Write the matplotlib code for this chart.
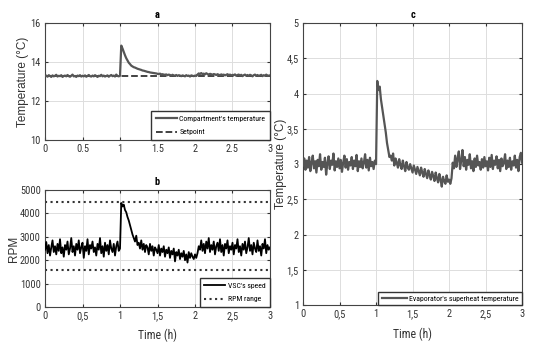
import numpy as np
import matplotlib.pyplot as plt
from matplotlib.ticker import FuncFormatter

# time axis, one sample per minute over 3 h
t = np.arange(181) / 60.0

# compartment temperature (deg C)
temp_a = [
    13.28, 13.31, 13.25, 13.33, 13.29, 13.24, 13.32, 13.27, 13.30, 13.35,
    13.26, 13.30, 13.28, 13.33, 13.24, 13.29, 13.31, 13.27, 13.34, 13.28,
    13.25, 13.30, 13.36, 13.27, 13.29, 13.24, 13.31, 13.28, 13.33, 13.26,
    13.30, 13.27, 13.32, 13.25, 13.29, 13.34, 13.28, 13.26, 13.31, 13.27,
    13.33, 13.29, 13.24, 13.30, 13.28, 13.35, 13.27, 13.31, 13.26, 13.29,
    13.32, 13.25, 13.30, 13.34, 13.28, 13.31, 13.26, 13.36, 13.29, 13.27,
    13.30, 14.85, 14.70, 14.52, 14.35, 14.20, 14.08, 13.97, 13.90, 13.82,
    13.78, 13.74, 13.72, 13.69, 13.66, 13.64, 13.62, 13.60, 13.57, 13.56,
    13.54, 13.52, 13.50, 13.49, 13.47, 13.46, 13.45, 13.44, 13.43, 13.42,
    13.40, 13.39, 13.41, 13.37, 13.38, 13.36, 13.35, 13.37, 13.33, 13.36,
    13.34, 13.31, 13.35, 13.32, 13.30, 13.34, 13.29, 13.33, 13.31, 13.28,
    13.32, 13.30, 13.27, 13.33, 13.29, 13.31, 13.26, 13.32, 13.30, 13.28,
    13.31, 13.29, 13.36, 13.42, 13.39, 13.44, 13.38, 13.41, 13.37, 13.43,
    13.39, 13.36, 13.40, 13.38, 13.35, 13.39, 13.37, 13.34, 13.38, 13.35,
    13.33, 13.37, 13.34, 13.36, 13.32, 13.35, 13.38, 13.33, 13.36, 13.31,
    13.35, 13.33, 13.37, 13.30, 13.34, 13.36, 13.31, 13.35, 13.28, 13.33,
    13.36, 13.30, 13.34, 13.29, 13.35, 13.32, 13.27, 13.33, 13.36, 13.30,
    13.34, 13.29, 13.32, 13.35, 13.28, 13.33, 13.30, 13.36, 13.29, 13.31,
    13.32]
setpoint = 13.3

# VSC speed (RPM)
rpm = [
    2450, 2780, 2300, 2650, 2200, 2550, 2850, 2350, 2600, 2250,
    2700, 2400, 2900, 2300, 2550, 2150, 2650, 2450, 2800, 2250,
    2500, 2950, 2350, 2600, 2200, 2700, 2450, 2850, 2300, 2550,
    2750, 2100, 2600, 2400, 2900, 2250, 2650, 2500, 2800, 2350,
    2550, 2200, 2700, 2450, 2950, 2300, 2600, 2150, 2750, 2400,
    2650, 2250, 2850, 2500, 2350, 2700, 2200, 2600, 2800, 2400,
    2500, 4450, 4300, 4380, 4150, 4050, 3850, 3700, 3500, 3300,
    3100, 2950, 2800, 3050, 2650, 2750, 2500, 2850, 2450, 2700,
    2350, 2650, 2550, 2250, 2700, 2400, 2600, 2200, 2550, 2450,
    2300, 2650, 2200, 2500, 2350, 2600, 2150, 2450, 2300, 2550,
    2100, 2400, 2250, 2500, 1950, 2350, 2200, 2450, 2050, 2300,
    2150, 2400, 2000, 2250, 1900, 2350, 2100, 2300, 2150, 2050,
    2250, 2100, 2300, 2600, 2450, 2850, 2400, 2700, 2300, 2800,
    2500, 2950, 2350, 2650, 2450, 2800, 2250, 2600, 2750, 2400,
    2900, 2350, 2650, 2200, 2700, 2500, 2850, 2300, 2600, 2450,
    2750, 2250, 2650, 2500, 2900, 2350, 2600, 2200, 2700, 2450,
    2800, 2300, 2550, 2950, 2400, 2650, 2250, 2750, 2500, 2350,
    2850, 2400, 2600, 2200, 2700, 2500, 2900, 2300, 2650, 2450,
    2550]
rpm_range = [1600, 4500]

# evaporator superheat (deg C)
superheat = [
    2.98, 3.08, 2.92, 3.05, 2.95, 3.10, 2.90, 3.02, 3.12, 2.94,
    3.04, 2.88, 3.06, 2.97, 3.14, 2.92, 3.03, 2.96, 3.09, 2.85,
    3.01, 3.11, 2.93, 3.05, 2.99, 3.15, 2.91, 3.04, 2.96, 3.08,
    2.94, 3.06, 2.89, 3.02, 3.12, 2.95, 3.07, 2.92, 3.03, 2.98,
    3.10, 2.93, 3.05, 2.97, 3.13, 2.90, 3.04, 2.96, 3.08, 2.94,
    3.02, 3.14, 2.95, 3.06, 2.91, 3.09, 2.97, 3.03, 2.93, 3.05,
    3.00, 4.18, 4.05, 4.10, 3.92, 3.80, 3.68, 3.55, 3.45, 3.30,
    3.20, 3.10, 3.12, 3.05, 3.15, 2.98, 3.08, 3.02, 2.95, 3.07,
    2.99, 2.93, 3.05, 2.97, 2.90, 3.03, 2.95, 2.92, 3.00, 2.94,
    2.88, 2.98, 2.92, 2.86, 2.96, 2.90, 2.84, 2.95, 2.88, 2.82,
    2.93, 2.86, 2.80, 2.91, 2.84, 2.78, 2.89, 2.83, 2.76, 2.88,
    2.80, 2.74, 2.86, 2.78, 2.68, 2.82, 2.76, 2.72, 2.84, 2.75,
    2.78, 2.72, 2.80, 3.02, 2.94, 3.12, 2.96, 3.08, 3.18, 2.93,
    3.05, 3.20, 2.97, 3.10, 2.92, 3.06, 2.99, 3.14, 2.94, 3.04,
    2.90, 3.08, 2.96, 3.12, 2.98, 3.03, 2.92, 3.07, 2.95, 3.10,
    2.97, 3.04, 2.91, 3.09, 2.96, 3.13, 2.93, 3.05, 2.99, 3.11,
    2.94, 3.06, 2.90, 3.08, 2.97, 3.02, 3.14, 2.93, 3.05, 2.96,
    3.09, 2.92, 3.04, 2.98, 3.12, 2.95, 3.06, 2.90, 3.10, 3.16,
    3.02]

xticks = [0, 0.5, 1, 1.5, 2, 2.5, 3]

NARROW = ['Roboto Condensed', 'DejaVu Sans']
WIDE = ['Liberation Sans', 'DejaVu Sans']
plt.rcParams['font.family'] = NARROW
plt.rcParams['font.size'] = 7.5

GRAY = '#555555'


def dot(v, pos):
    return '%g' % v


def comma(v, pos):
    return ('%g' % v).replace('.', ',')


def style(ax):
    ax.grid(True, color='#dddddd', lw=0.7)
    ax.set_axisbelow(True)
    for s in ax.spines.values():
        s.set_color('#444444')
        s.set_linewidth(0.8)
    ax.tick_params(direction='in', length=2.5, top=True, right=True,
                   labelsize=7.5, colors='#333333', pad=3)
    ax.set_xlim(0, 3)
    ax.set_xticks(xticks)


leg_kw = dict(loc='lower right', fontsize=5.6, borderaxespad=0, fancybox=False,
              edgecolor='#333333', framealpha=1, handletextpad=0.3)

fig = plt.figure(figsize=(5.45, 3.51), dpi=100)

# panel a
ax1 = fig.add_axes([0.0826, 0.601, 0.4128, 0.333])
style(ax1)
ax1.plot([0, 3], [setpoint, setpoint], '--', color='#333333', lw=1.3, label='Setpoint', zorder=2)
ax1.plot(t, temp_a, color=GRAY, lw=1.6, label="Compartment's temperature", zorder=3)
ax1.set_ylim(10, 16)
ax1.set_yticks([10, 12, 14, 16])
ax1.xaxis.set_major_formatter(FuncFormatter(dot))
ax1.set_ylabel('Temperature (°C)', family=WIDE, fontsize=8.5, color='#333333')
ax1.yaxis.set_label_coords(-0.07, 0.5)
ax1.set_title('a', fontweight='bold', fontsize=7.5, pad=4)
h, l = ax1.get_legend_handles_labels()
ax1.legend(h[::-1], l[::-1], handlelength=2.7, borderpad=0.6, labelspacing=0.9, **leg_kw)

# panel b
ax2 = fig.add_axes([0.0826, 0.1254, 0.4128, 0.333])
style(ax2)
ax2.plot(t, rpm, color='black', lw=1.3, label="VSC's speed", zorder=3)
for i, r in enumerate(rpm_range):
    ax2.axhline(r, color='#333333', ls=':', lw=1.5, label='RPM range' if i == 0 else None, zorder=2)
ax2.set_ylim(0, 5000)
ax2.set_yticks(range(0, 5001, 1000))
ax2.xaxis.set_major_formatter(FuncFormatter(comma))
ax2.set_ylabel('RPM', family=WIDE, fontsize=8.5, color='#333333')
ax2.yaxis.set_label_coords(-0.11, 0.5)
ax2.set_xlabel('Time (h)', fontsize=8.5, color='#333333', labelpad=5)
ax2.set_title('b', fontweight='bold', fontsize=7.5, pad=4)
ax2.legend(handlelength=2.7, borderpad=0.6, labelspacing=0.9, **leg_kw)

# panel c
ax3 = fig.add_axes([0.556, 0.131, 0.402, 0.803])
style(ax3)
ax3.plot(t, superheat, color=GRAY, lw=1.6, label="Evaporator's superheat temperature", zorder=3)
ax3.set_ylim(1, 5)
ax3.set_yticks(np.arange(1, 5.01, 0.5))
ax3.xaxis.set_major_formatter(FuncFormatter(comma))
ax3.yaxis.set_major_formatter(FuncFormatter(comma))
ax3.set_ylabel('Temperature (°C)', family=WIDE, fontsize=8.5, color='#333333')
ax3.yaxis.set_label_coords(-0.075, 0.5)
ax3.set_xlabel('Time (h)', fontsize=8.5, color='#333333', labelpad=6)
ax3.set_title('c', fontweight='bold', fontsize=7.5, pad=4)
ax3.legend(handlelength=3.2, borderpad=0.45, **leg_kw)

fig.savefig('out.png', dpi=100)
